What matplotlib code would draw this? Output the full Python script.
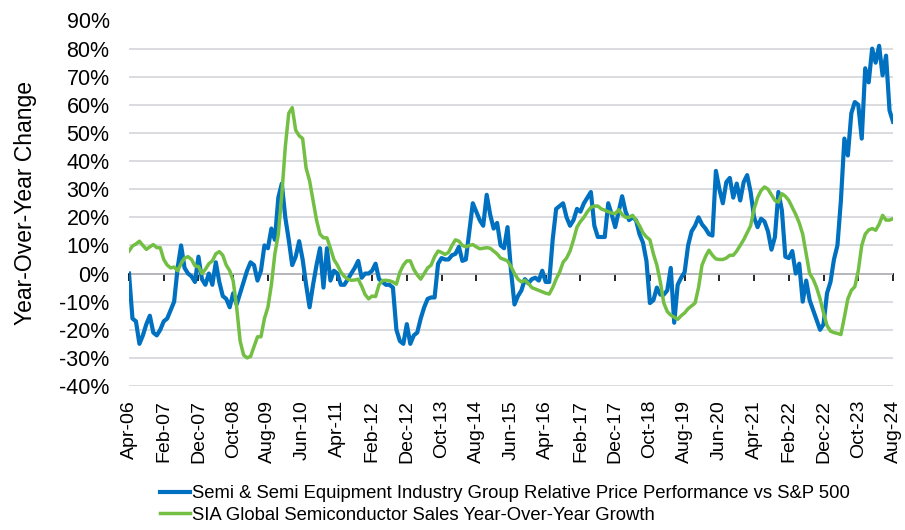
import numpy as np
import pandas as pd
import matplotlib
matplotlib.use("Agg")
import matplotlib.pyplot as plt

plt.rcParams['font.family'] = ['Liberation Sans', 'DejaVu Sans']

# monthly, Apr-06 .. Aug-24 (221 points), % year-over-year
months = pd.date_range('2006-04-01', periods=221, freq='MS')

semi_rel_perf = [
    0, -16, -17, -25, -22, -18, -15, -21, -22, -20,
    -17, -16, -13, -10, 2, 10, 2, 0, -1, -3,
    6, -2, -4, 0, -4, 4, -3, -8, -9, -12,
    -7, -11, -7, -3, 1, 4, 3, -2.5, 1, 10,
    9, 16, 12, 27, 32, 20, 12, 3, 6, 11.5,
    5, -4, -12, -4, 3, 9, -5, 9, -2.5, 1,
    0, -4, -4, -2, 0, 2, 4.5, -1.5, 0, 0,
    1, 3.5, -2, -3, -4, -4, -5, -20, -24, -25,
    -18, -25, -22, -21, -16, -12, -9, -8.5, -8.5, 3.5,
    5.5, 5, 5, 6.5, 7, 9.5, 4.5, 5, 15, 25,
    22, 19, 17, 28, 21, 16, 18, 10, 9, 16.5,
    1, -11, -8, -6, -2, -3.5, -2, -1.5, -2.5, 1,
    -3, -3, 12, 23, 24, 25, 20, 17, 19, 23,
    22, 25, 27, 29, 17, 13, 13, 13, 25, 21,
    16.5, 22, 27.5, 22, 19, 20, 19, 14, 11, 4.5,
    -10.5, -9.5, -5, -7.5, -7.5, -6, 2, -17.5, -4, -1.5,
    0.5, 10, 15, 17, 20, 17.5, 16, 14, 13.5, 36.5,
    30, 25, 32.5, 34, 27, 32, 26, 32.5, 35, 29,
    20, 16.5, 19.5, 18.5, 15, 8.5, 13, 29, 22.5, 6,
    5.5, 8, 0, 3.5, -10, -2.5, -9.5, -13, -16.5, -20,
    -18, -7, -3, 5, 10, 26, 48, 42, 57, 61,
    60, 48, 73, 68, 80, 75, 81, 70.5, 77.5, 58,
    54,
]

sia_sales_growth = [
    8, 9.8, 10.5, 11.5, 10, 8.6, 9.5, 10.3, 9.2, 9.2,
    5, 3, 2, 2.3, 1, 3.5, 5.5, 6, 5, 2.7,
    2.5, 0, 1.5, 3.5, 4.5, 7, 7.8, 6.5, 3, 1,
    -2.6, -12, -24, -29, -30, -29.5, -26, -22.5, -22.5, -16,
    -12, -4, 7, 14, 28, 45, 57, 59, 51, 49,
    48, 37.5, 33, 26, 19, 14, 12.7, 12.7, 9, 5,
    3, 0.5, -1, -2, -2.4, -2.3, -2, -4.5, -7.5, -9,
    -8, -8.2, -4, -2.5, -2.4, -2.6, -3, -3.8, 0.5, 3,
    4.5, 4.5, 1.5, -0.5, -2, 0, 2, 3, 6, 8,
    7.5, 6.8, 7.5, 10, 12, 11.5, 10, 9.5, 10, 10.3,
    9.5, 8.8, 9, 9.2, 9, 8, 7, 5.5, 5, 4.5,
    2.5, 0, -2, -3, -2.4, -3.5, -5, -5.5, -6, -6.5,
    -7, -7.3, -5, -2, 0.5, 4, 5.5, 8, 12, 16.5,
    18.5, 20, 22, 23.5, 24, 24, 23, 22.5, 22, 21.5,
    21.3, 22.7, 21, 20, 20, 20.7, 19, 17, 14.5, 13,
    12, 7, 3, -3, -10.5, -13.5, -14.8, -15.5, -16.3, -15,
    -14, -12.5, -11.5, -10.5, -5, 3, 6, 8.3, 6.5, 5.2,
    5, 5, 5.5, 6.5, 6.5, 8, 10, 12, 14.5, 17,
    23, 27, 29.5, 30.8, 30, 28, 26, 25.4, 28.4, 27.5,
    26, 23.5, 21, 18, 14, 7, 0, -2, -5, -9,
    -14, -18.5, -20.5, -21, -21.3, -21.7, -15.5, -9, -6, -4.7,
    1, 10, 14, 15.5, 16, 15.4, 17.5, 20.7, 19, 19,
    19.5,
]

series_names = ['Semi & Semi Equipment Industry Group Relative Price Performance vs S&P 500',
                'SIA Global Semiconductor Sales Year-Over-Year Growth']

x = np.arange(len(months))
tick_idx = x[::10]
tick_labels = months[::10].strftime('%b-%y')

fig = plt.figure(figsize=(9.05, 5.30), dpi=100)
ax = fig.add_axes([129 / 905, 1 - 386 / 530, (893 - 129) / 905, (386 - 20.5) / 530])

ax.plot(x, semi_rel_perf, color='#0070C0', lw=3.0, label=series_names[0], solid_joinstyle='round')
ax.plot(x, sia_sales_growth, color='#72BF44', lw=2.5, label=series_names[1], solid_joinstyle='round')

ax.set_xlim(0, len(months) - 1)
ax.set_ylim(-40, 90)
ax.set_yticks(np.arange(-40, 91, 10))
ax.set_yticklabels([f'{v}%' for v in range(-40, 91, 10)], fontsize=15.5)
ax.yaxis.grid(True, color='#D3D5D9', lw=1.2)
ax.set_axisbelow(True)
for s in ax.spines.values():
    s.set_visible(False)
ax.tick_params(axis='y', length=0, pad=14)

ax.set_xticks(tick_idx)
ax.set_xticklabels(tick_labels, rotation=90, fontsize=14)
ax.tick_params(axis='x', length=0, pad=10)

# zero line with tick marks
zero_pos = (0 - (-40)) / 130
sec = ax.secondary_xaxis(zero_pos)
sec.set_xticks(tick_idx)
sec.set_xticklabels([])
sec.tick_params(axis='x', length=5, width=1.2, direction='out', color='black')
sec.spines['bottom'].set_color('black')
sec.spines['bottom'].set_linewidth(1.2)

ax.set_ylabel('Year-Over-Year Change', fontsize=16.5, labelpad=16)

fig.legend(loc='upper left', bbox_to_anchor=(160 / 905, 1 - 485 / 530), frameon=False,
           fontsize=13.3, handlelength=1.6, handletextpad=0.15, labelspacing=0.25,
           borderaxespad=0, borderpad=0)

fig.savefig('out.png', dpi=100)
